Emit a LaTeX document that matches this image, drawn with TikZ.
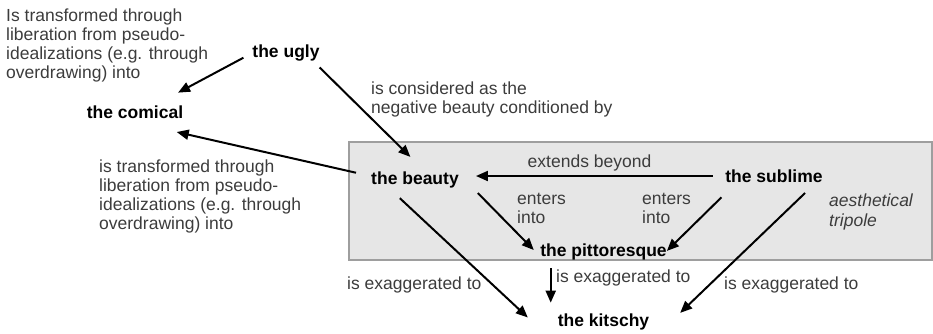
\documentclass[tikz,border=0pt]{standalone}
\usepackage{fontspec}
\setmainfont{Liberation Sans}
\usetikzlibrary{arrows.meta}
\definecolor{txtgray}{HTML}{3C3C3C}
\definecolor{boxfill}{HTML}{E6E6E6}
\definecolor{boxline}{HTML}{9E9E9E}
\newcommand{\diagfont}{\fontsize{17.5}{19.3}\selectfont}

\begin{document}
\begin{tikzpicture}[x=1pt,y=-1pt,
  concept/.style={font=\diagfont\bfseries,inner sep=0pt},
  note/.style={font=\diagfont,text=txtgray,align=left,anchor=west,inner sep=0pt},
  arr/.style={line width=2pt,-{Triangle[length=12pt,width=10pt]}}]
  \useasboundingbox (0,0) rectangle (933,333);

  % aesthetical tripole
  \draw[boxline,fill=boxfill,line width=1.2pt] (349,142) rectangle (932,260);
  \node[note,font=\diagfont\itshape] (tripole) at (829,212) {aesthetical\\tripole};

  % concepts
  \node[concept] (ugly) at (286,53) {the ugly};
  \node[concept] (comical) at (135,112) {the comical};
  \node[concept] (beauty) at (415,180) {the beauty};
  \node[concept] (sublime) at (774,176) {the sublime};
  \node[concept] (pitt) at (603.5,252) {the pittoresque};
  \node[concept,minimum width=127pt] (kitschy) at (603.5,322) {the kitschy};

  % relations
  \node[note] (lbltransA) at (6,45.5) {Is transformed through\\liberation from pseudo-\\idealizations (e.g. through\\overdrawing) into};
  \node[note] (lblnegative) at (371,99.5) {is considered as the\\negative beauty conditioned by};
  \node[note] (lbltransB) at (99,196.5) {is transformed through\\liberation from pseudo-\\idealizations (e.g. through\\overdrawing) into};
  \node[note,anchor=center] (lblbeyond) at (589.5,163) {extends beyond};
  \node[note] (lblentersA) at (517,208.5) {enters\\into};
  \node[note] (lblentersB) at (642,208.5) {enters\\into};
  \node[note] (lblexagA) at (347,285) {is exaggerated to};
  \node[note] (lblexagB) at (556,278) {is exaggerated to};
  \node[note] (lblexagC) at (724,285) {is exaggerated to};

  % arrows
  \draw[arr,shorten <=10pt,shorten >=27pt] (ugly.west) -- (comical.19);
  \draw[arr,shorten <=8.6pt,shorten >=21pt] (ugly.-17) -- (beauty.39);
  \draw[arr,shorten <=15.4pt,shorten >=60.5pt] (beauty.175) -- (comical.201);
  \draw[arr,shorten <=12.5pt,shorten >=17pt] (sublime.west) -- (sublime.west -| beauty.east);
  \draw[arr,shorten <=27pt,shorten >=9pt] (beauty.8) -- (pitt.184);
  \draw[arr,shorten <=21pt] (sublime.190) -- (pitt.1);
  \draw[arr,shorten <=14.4pt,shorten >=16.4pt] (beauty.198) -- (kitschy.186.5);
  \draw[arr,shorten <=15pt,shorten >=18pt] (sublime.-9) -- (kitschy.-3);
  \draw[arr,shorten <=8pt,shorten >=11pt] (pitt.189) -- (kitschy.171);
\end{tikzpicture}
\end{document}
